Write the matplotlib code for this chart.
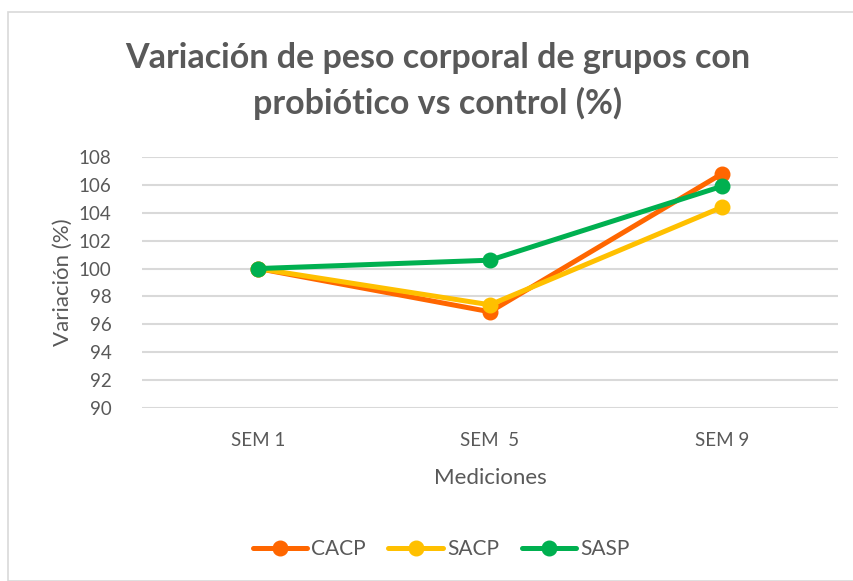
import matplotlib
matplotlib.use("Agg")
import matplotlib.pyplot as plt
from matplotlib.patches import Rectangle

plt.rcParams['font.family'] = ['Lato', 'DejaVu Sans']

categories = ["SEM 1", "SEM  5", "SEM 9"]
series_names = ["CACP", "SACP", "SASP"]
cacp = [100.0, 96.9, 106.8]
sacp = [100.0, 97.4, 104.4]
sasp = [100.0, 100.6, 105.9]
yticks = list(range(90, 109, 2))

colors = ["#FF6600", "#FFC000", "#00B050"]
text_color = "#595959"

W, H = 854, 581
fig = plt.figure(figsize=(W / 100, H / 100), dpi=100)

# chart frame
fig.patches.append(Rectangle((8 / W, 0), 1, 1 - 12 / H, transform=fig.transFigure,
                             fill=False, edgecolor="#D9D9D9", linewidth=1.2))

ax = fig.add_axes([142 / W, 1 - 408 / H, 696 / W, 251 / H])
x = list(range(len(categories)))
for vals, name, c in zip([cacp, sacp, sasp], series_names, colors):
    ax.plot(x, vals, color=c, linewidth=3.6, marker="o", markersize=10.5,
            label=name, solid_capstyle="round", zorder=3)

ax.set_xlim(-0.5, 2.5)
ax.set_ylim(90, 108)
ax.set_yticks(yticks)
ax.set_xticks(x)
ax.set_xticklabels(categories)
ax.grid(axis="y", color="#D9D9D9", linewidth=1.5)
ax.set_axisbelow(True)
for s in ax.spines.values():
    s.set_visible(False)
ax.tick_params(axis="both", length=0, labelsize=13.5, labelcolor=text_color)
ax.tick_params(axis="y", pad=22)
ax.tick_params(axis="x", pad=17)

ax.set_ylabel("Variación (%)", fontsize=16, color=text_color, labelpad=4)
ax.set_xlabel("Mediciones", fontsize=16, color=text_color, labelpad=14)

fig.text(438 / W, 1 - 81 / H,
         "Variación de peso corporal de grupos con\nprobiótico vs control (%)",
         ha="center", va="center", fontsize=24.5, fontweight="bold",
         color=text_color, linespacing=1.5)

leg = fig.legend(loc="center", bbox_to_anchor=(441 / W, 1 - 549 / H), ncol=3,
                 frameon=False, fontsize=15, handlelength=2.6, columnspacing=1.1,
                 handletextpad=0.2, labelcolor=text_color)

fig.savefig("out.png", dpi=100)
